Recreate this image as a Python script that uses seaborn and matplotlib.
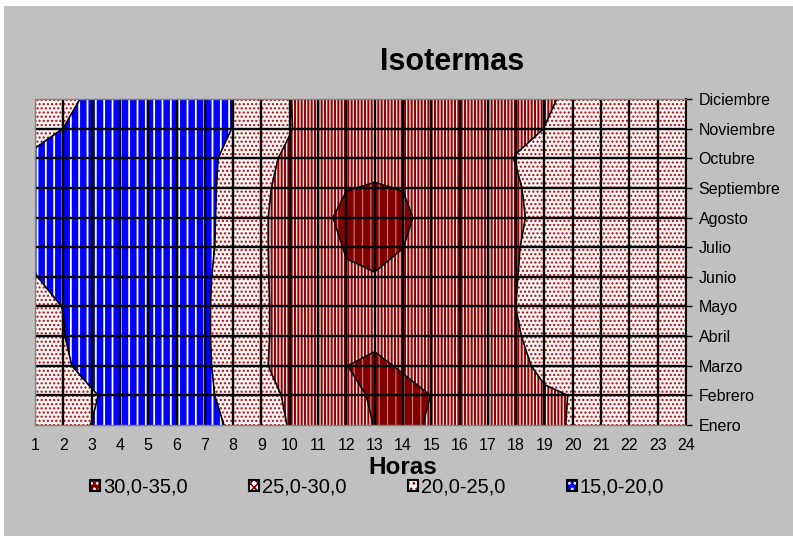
import numpy as np
import matplotlib
matplotlib.use("Agg")
import matplotlib.pyplot as plt
from matplotlib.patches import Patch, Rectangle
import seaborn as sns

# Hours of the day and months (rows of the temperature table)
horas = list(range(1, 25))
meses = ["Enero", "Febrero", "Marzo", "Abril", "Mayo", "Junio", "Julio",
         "Agosto", "Septiembre", "Octubre", "Noviembre", "Diciembre"]

# Mean temperature (°C) for each hour, one list per month
enero = [21.0, 20.5, 19.97, 18.8, 18.2, 18.0, 18.9, 20.54, 23.0, 25.22, 27.2, 29.0,
         30.05, 30.5, 29.79, 28.8, 27.6, 26.6, 25.6, 24.8, 23.8, 23.0, 22.3, 21.6]
febrero = [21.2, 20.8, 20.3, 19.0, 18.4, 18.2, 19.0, 21.86, 24.0, 25.43, 27.5, 29.0,
           30.43, 30.6, 29.98, 28.8, 27.8, 26.8, 25.5, 24.89, 23.9, 23.1, 22.4, 21.8]
marzo = [21.0, 20.4, 19.07, 18.5, 18.1, 18.0, 19.6, 21.27, 24.4, 26.9, 28.5, 29.98,
         30.4, 29.78, 29.0, 28.0, 27.0, 26.0, 24.11, 23.6, 23.0, 22.5, 22.0, 21.5]
abril = [20.8, 20.1, 18.43, 18.2, 17.9, 17.8, 19.6, 21.6, 24.4, 26.47, 28.0, 29.0,
         29.55, 29.3, 28.6, 27.6, 26.6, 25.3, 23.63, 23.2, 22.7, 22.2, 21.8, 21.4]
mayo = [20.6, 19.96, 19.0, 18.3, 17.8, 17.7, 19.5, 22.0, 24.4, 26.47, 28.0, 29.2,
        29.6, 29.4, 28.7, 27.6, 26.5, 24.97, 23.8, 23.2, 22.7, 22.2, 21.8, 21.3]
junio = [20.05, 19.5, 18.8, 18.2, 17.7, 17.6, 19.4, 21.9, 24.4, 26.71, 28.2, 29.81,
         29.71, 29.5, 28.8, 27.8, 26.6, 25.1, 23.43, 23.0, 22.6, 22.1, 21.7, 21.2]
julio = [19.7, 19.3, 18.7, 18.1, 17.6, 17.5, 19.4, 21.11, 24.4, 26.9, 29.2, 30.12,
         31.5, 30.02, 29.0, 27.9, 26.8, 25.2, 23.77, 23.2, 22.7, 22.2, 21.8, 21.3]
agosto = [19.6, 19.2, 18.6, 18.0, 17.6, 17.5, 19.5, 20.82, 24.5, 26.58, 29.0, 30.89,
          31.5, 30.8, 28.51, 27.6, 26.6, 25.5, 23.98, 23.3, 22.8, 22.3, 21.9, 21.4]
septiembre = [19.6, 19.2, 18.6, 18.0, 17.6, 17.5, 19.5, 20.72, 24.6, 25.74, 28.3, 29.89,
              30.19, 29.89, 28.6, 27.6, 26.5, 25.3, 23.8, 23.2, 22.8, 22.3, 21.8, 21.3]
octubre = [19.7, 19.3, 18.6, 18.1, 17.7, 17.6, 19.4, 20.68, 24.0, 25.69, 27.8, 29.0,
           29.19, 28.9, 28.2, 27.2, 26.0, 24.89, 24.0, 23.3, 22.8, 22.3, 21.8, 21.3]
noviembre = [20.58, 19.99, 19.0, 18.4, 18.0, 17.9, 19.0, 20.06, 23.5, 24.8, 26.8, 28.2,
             28.8, 28.6, 28.0, 27.2, 26.3, 25.6, 24.98, 24.0, 23.3, 22.7, 22.1, 21.6]
diciembre = [21.0, 20.6, 19.58, 18.8, 18.4, 18.3, 19.2, 20.05, 23.5, 24.9, 26.9, 28.0,
             28.7, 28.5, 27.9, 27.1, 26.3, 25.7, 25.25, 24.67, 23.7, 23.0, 22.4, 21.9]

# Temperature bands (legend order)
rangos = ["30,0-35,0", "25,0-30,0", "20,0-25,0", "15,0-20,0"]
limites = [(30, 35), (25, 30), (20, 25), (15, 20)]
niveles_linea = [20, 25, 30]

tabla = np.array([enero, febrero, marzo, abril, mayo, junio, julio, agosto,
                  septiembre, octubre, noviembre, diciembre])

sns.set_style("white")
plt.rcParams["font.family"] = ["Liberation Sans", "DejaVu Sans"]
plt.rcParams["text.color"] = "black"
plt.rcParams["xtick.color"] = "black"
plt.rcParams["ytick.color"] = "black"
plt.rcParams["hatch.linewidth"] = 1.2

# fill colour, hatch pattern, hatch colour, hatch width for each band
estilos = {
    "30,0-35,0": ("#800000", "||", "#c87070", 0.9),
    "25,0-30,0": ("#f6dcdc", "|||||", "#8b0000", 1.4),
    "20,0-25,0": ("#fcf2f2", "....", "#a01010", 1.0),
    "15,0-20,0": ("#0000ff", "||", "#ffffff", 1.3),
}
leyenda_estilos = {
    "30,0-35,0": ("#800000", "...", "#ffffff"),
    "25,0-30,0": ("#ffffff", "xxxx", "#800000"),
    "20,0-25,0": ("#ffffff", "...", "#800000"),
    "15,0-20,0": ("#0000ff", "...", "#ffffff"),
}

fig = plt.figure(figsize=(7.93, 5.36), dpi=100, facecolor="white")
fig.patches.append(Rectangle((4 / 793, 0), 1, 1 - 6 / 536, transform=fig.transFigure,
                             facecolor="#c0c0c0", edgecolor="none", zorder=-10))

ax = fig.add_axes([35 / 793, 1 - 425 / 536, (686 - 35) / 793, (425 - 99) / 536])
ax.set_facecolor("white")

X, Y = np.meshgrid(horas, np.arange(len(meses)))
for nombre, (lo, hi) in zip(rangos, limites):
    fc, hatch, hc, hlw = estilos[nombre]
    with plt.rc_context({"hatch.color": hc, "hatch.linewidth": hlw}):
        cs = ax.contourf(X, Y, tabla, levels=[lo, hi], colors=[fc], hatches=[hatch],
                         zorder=1)
    cs.set_edgecolor(hc)
    cs.set_linewidth(0)

ax.contour(X, Y, tabla, levels=niveles_linea, colors="black", linewidths=1.2, zorder=4)

# interior grid
ax.vlines(horas[1:-1], 0, len(meses) - 1, colors="black", linewidth=1.7, zorder=3)
ax.hlines(np.arange(1, len(meses) - 1), horas[0], horas[-1], colors="black",
          linewidth=1.7, zorder=3)

ax.set_xlim(horas[0], horas[-1])
ax.set_ylim(0, len(meses) - 1)
ax.set_xticks(horas)
ax.set_xticklabels([str(h) for h in horas], fontsize=11.5)
ax.set_yticks(np.arange(len(meses)))
ax.set_yticklabels(meses, fontsize=11.5)
ax.yaxis.tick_right()
ax.tick_params(axis="x", direction="out", length=4, width=1, color="#808080",
               labelcolor="black", pad=5)
ax.tick_params(axis="y", direction="out", length=4, width=1, color="black",
               labelcolor="black", pad=5)

for lado in ["left", "top", "bottom"]:
    ax.spines[lado].set_color("#808080")
    ax.spines[lado].set_linewidth(1.0)
ax.spines["right"].set_color("black")
ax.spines["right"].set_linewidth(1.5)
for s in ax.spines.values():
    s.set_zorder(5)

fig.text(452 / 793, 1 - 62 / 536, "Isotermas", ha="center", va="center",
         fontsize=22, fontweight="bold", color="black")
fig.text(403 / 793, 1 - 467 / 536, "Horas", ha="center", va="center",
         fontsize=17.5, fontweight="bold", color="black")

handles = []
for nombre in rangos:
    fc, hatch, hc = leyenda_estilos[nombre]
    relleno = Patch(facecolor=fc, hatch=hatch, edgecolor=hc, linewidth=0)
    borde = Patch(facecolor="none", edgecolor="black", linewidth=1.5)
    handles.append((relleno, borde))

fig.legend(handles, rangos, loc="center", bbox_to_anchor=(377 / 793, 1 - 487 / 536),
           ncol=4, frameon=False, fontsize=14.5, handlelength=0.5, handleheight=0.5,
           handletextpad=0.15, columnspacing=3.05, borderpad=0, labelcolor="black")

fig.savefig("out.png", dpi=100, facecolor=fig.get_facecolor())
